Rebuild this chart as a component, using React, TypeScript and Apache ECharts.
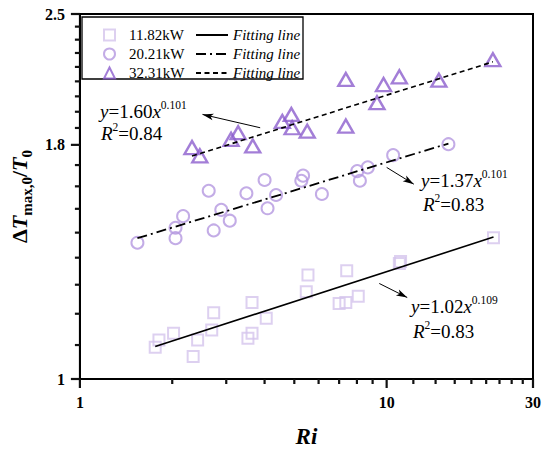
import React, { useEffect, useRef } from "react";
import * as echarts from "echarts";

const FAMILY = "Liberation Serif";

// 11.82 kW (squares)
const ri11 = [1.76, 1.81, 2.02, 2.34, 2.42, 2.69, 2.73, 3.53, 3.64, 3.64, 4.05, 5.47, 5.54, 7.0, 7.36, 7.41, 8.08, 11.0, 11.1, 22.3];
const dt11 = [1.083, 1.103, 1.122, 1.058, 1.103, 1.131, 1.181, 1.108, 1.122, 1.212, 1.165, 1.245, 1.298, 1.209, 1.212, 1.312, 1.231, 1.336, 1.343, 1.426];
// 20.21 kW (circles)
const ri20 = [1.54, 2.05, 2.05, 2.17, 2.63, 2.73, 2.89, 3.08, 3.49, 4.0, 4.09, 4.36, 5.27, 5.34, 6.15, 8.02, 8.18, 8.68, 10.5, 15.9];
const dt20 = [1.408, 1.424, 1.462, 1.505, 1.604, 1.452, 1.529, 1.488, 1.594, 1.648, 1.535, 1.587, 1.645, 1.666, 1.591, 1.685, 1.645, 1.701, 1.754, 1.803];
// 32.31 kW (triangles)
const ri32 = [2.32, 2.46, 3.11, 3.28, 3.66, 4.57, 4.89, 4.92, 5.51, 7.36, 7.36, 9.3, 9.77, 11.0, 14.8, 22.2];
const dt32 = [1.788, 1.751, 1.825, 1.856, 1.795, 1.909, 1.943, 1.879, 1.863, 2.121, 1.887, 2.001, 2.094, 2.135, 2.117, 2.229];

// fitting lines (end points)
const fitX11 = [1.76, 22.3];
const fitY11 = [1.085, 1.428];
const fitX20 = [1.54, 15.9];
const fitY20 = [1.424, 1.806];
const fitX32 = [2.32, 22.2];
const fitY32 = [1.75, 2.217];

// annotation arrows: [fromX, fromY, toX, toY]
const arrow32 = [3.87, 1.879, 2.51, 1.943];
const arrow20 = [10.0, 1.701, 12.26, 1.631];
const arrow11 = [9.46, 1.271, 11.67, 1.227];

// axis ranges and ticks
const X_MIN = 1;
const X_MAX = 30;
const Y_MIN = 1;
const Y_MAX = 2.5;
const xMajor = [1, 10, 30];
const xMinor = [2, 3, 4, 5, 6, 7, 8, 9, 12.22, 14.44, 16.67, 18.89, 21.11, 23.33, 25.56, 27.78];
const yMajor = [1, 1.8, 2.5];
const yMinor = [1.089, 1.178, 1.267, 1.356, 1.444, 1.533, 1.622, 1.711, 1.878, 1.956, 2.033, 2.111, 2.189, 2.267, 2.344, 2.422];

const legendNames = ["11.82kW", "20.21kW", "32.31kW"];
const fitNames = ["fit11", "fit20", "fit32"];

const pairs = (xs: number[], ys: number[]) => xs.map((x, i) => [x, ys[i]]);
const fromLog = (v: number) => String(Number(Math.pow(10, v).toFixed(2)));

const arrowLine = (a: number[]) => ({
  silent: true,
  symbol: ["none", "arrow"],
  symbolSize: [0, 10],
  label: { show: false },
  emphasis: { disabled: true },
  lineStyle: { color: "#000", width: 1, type: "solid" },
  data: [[{ coord: [a[0], a[1]] }, { coord: [a[2], a[3]], symbol: "arrow", symbolSize: [5, 11] }]],
});

// tick marks drawn through the log axes' own scales
const tickSeries = (values: number[], dir: "x" | "y", len: number) => ({
  type: "custom",
  xAxisIndex: 0,
  yAxisIndex: 0,
  silent: true,
  clip: false,
  z: 10,
  data: values.map((v) => (dir === "x" ? [v, Y_MIN] : [X_MIN, v])),
  renderItem: (_params: any, api: any) => {
    const p = api.coord([api.value(0), api.value(1)]);
    const shape = dir === "x" ? { x1: p[0], y1: p[1], x2: p[0], y2: p[1] + len } : { x1: p[0], y1: p[1], x2: p[0] - len, y2: p[1] };
    return { type: "line", shape, style: { stroke: "#111111", lineWidth: 2.2 } };
  },
});

const tok = (size: number, style: string, weight: string, extra: any = {}) => ({
  fontFamily: FAMILY,
  fontSize: size,
  fontWeight: weight,
  fontStyle: style,
  color: "#000",
  fill: "#000",
  ...extra,
});

const annRich = {
  i: tok(19, "italic", "normal", { lineHeight: 24 }),
  n: tok(19, "normal", "normal", { lineHeight: 24 }),
  p: tok(11.5, "normal", "normal", { verticalAlign: "top", lineHeight: 12 }),
};

const annText = (x: number, y: number, text: string) => ({
  type: "text",
  x,
  y,
  silent: true,
  style: {
    text,
    rich: annRich,
    fontFamily: FAMILY,
    fontSize: 19,
    fill: "#000",
    align: "left",
    verticalAlign: "middle",
  },
});

const axisFont = { fontFamily: FAMILY, fontSize: 16, fontWeight: "bold", color: "#000" };
const noLine = { show: false, onZero: false };

const LX_MAX = Math.log10(X_MAX);
const LY_MAX = Math.log10(Y_MAX);

const legendText = { fontFamily: FAMILY, fontSize: 15, color: "#000", lineHeight: 16 };
const clearItem = { color: "rgba(0,0,0,0)", borderColor: "rgba(0,0,0,0)", borderWidth: 0 };

const option: any = {
  animation: false,
  textStyle: { fontFamily: FAMILY },
  grid: { left: 74, right: 17, top: 14, bottom: 72, show: true, borderColor: "#000", borderWidth: 2, backgroundColor: "transparent" },
  legend: [
    {
      // symbols
      data: legendNames,
      orient: "vertical",
      left: 98,
      top: 22,
      itemWidth: 11,
      itemHeight: 11,
      itemGap: 3,
      selectedMode: false,
      formatter: () => " ",
      itemStyle: { borderWidth: 2 },
      textStyle: legendText,
    },
    {
      // names
      data: legendNames,
      orient: "vertical",
      left: 118,
      top: 22,
      itemWidth: 1,
      itemHeight: 11,
      itemGap: 3,
      selectedMode: false,
      itemStyle: clearItem,
      textStyle: legendText,
    },
    {
      data: fitNames,
      orient: "vertical",
      left: 190,
      top: 22,
      itemWidth: 32,
      itemHeight: 11,
      itemGap: 3,
      selectedMode: false,
      formatter: () => "Fitting line",
      itemStyle: clearItem,
      textStyle: { ...legendText, fontStyle: "italic" },
    },
  ],
  xAxis: [
    {
      type: "log",
      logBase: 10,
      min: X_MIN,
      max: X_MAX,
      position: "bottom",
      axisLine: { show: true, onZero: false, lineStyle: { color: "#000", width: 2 } },
      axisTick: { show: false },
      axisLabel: { show: false },
      splitLine: { show: false },
      minorTick: { show: false },
    },
    {
      type: "value",
      min: 0,
      max: LX_MAX,
      position: "bottom",
      axisLine: noLine,
      axisTick: { show: false },
      axisLabel: { show: true, customValues: xMajor.map(Math.log10), formatter: fromLog, margin: 15, ...axisFont },
      splitLine: { show: false },
      name: "Ri",
      nameLocation: "middle",
      nameGap: 46,
      nameTextStyle: { fontFamily: FAMILY, fontSize: 23, fontWeight: "bold", fontStyle: "italic", color: "#000" },
    },
  ],
  yAxis: [
    {
      type: "log",
      logBase: 10,
      min: Y_MIN,
      max: Y_MAX,
      position: "left",
      axisLine: { show: true, onZero: false, lineStyle: { color: "#000", width: 2 } },
      axisTick: { show: false },
      axisLabel: { show: false },
      splitLine: { show: false },
      minorTick: { show: false },
    },
    {
      type: "value",
      min: 0,
      max: LY_MAX,
      position: "left",
      axisLine: noLine,
      axisTick: { show: false },
      axisLabel: { show: true, customValues: yMajor.map(Math.log10), formatter: fromLog, margin: 15, ...axisFont },
      splitLine: { show: false },
      name: "{d|Δ}{t|T}{s|max,0}{d|/}{t|T}{s|0}",
      nameLocation: "middle",
      nameRotate: 90,
      nameGap: 38,
      nameTextStyle: {
        fontFamily: FAMILY,
        fontSize: 22,
        fontWeight: "bold",
        color: "#000",
        rich: {
          d: tok(22, "normal", "bold", { lineHeight: 30 }),
          t: tok(22, "italic", "bold", { lineHeight: 30 }),
          s: tok(15, "normal", "bold", { verticalAlign: "bottom", lineHeight: 18 }),
        },
      },
    },
  ],
  series: [
    {
      name: "11.82kW",
      type: "scatter",
      xAxisIndex: 0,
      yAxisIndex: 0,
      data: pairs(ri11, dt11),
      symbol: "rect",
      symbolSize: 11,
      itemStyle: { color: "rgba(255,255,255,0)", borderColor: "#d4c4ec", borderWidth: 2 },
      emphasis: { disabled: true },
    },
    {
      name: "20.21kW",
      type: "scatter",
      xAxisIndex: 0,
      yAxisIndex: 0,
      data: pairs(ri20, dt20),
      symbol: "circle",
      symbolSize: 12,
      itemStyle: { color: "rgba(255,255,255,0)", borderColor: "#b497e0", borderWidth: 2 },
      emphasis: { disabled: true },
    },
    {
      name: "32.31kW",
      type: "scatter",
      xAxisIndex: 0,
      yAxisIndex: 0,
      data: pairs(ri32, dt32),
      symbol: "triangle",
      symbolSize: [15, 13],
      itemStyle: { color: "rgba(255,255,255,0)", borderColor: "#8c5ecd", borderWidth: 2.4 },
      emphasis: { disabled: true },
    },
    {
      name: "fit11",
      type: "line",
      xAxisIndex: 0,
      yAxisIndex: 0,
      data: pairs(fitX11, fitY11),
      symbol: "none",
      itemStyle: { color: "#000" },
      lineStyle: { color: "#000", width: 1.6, type: "solid" },
      markLine: arrowLine(arrow11),
    },
    {
      name: "fit20",
      type: "line",
      xAxisIndex: 0,
      yAxisIndex: 0,
      data: pairs(fitX20, fitY20),
      symbol: "none",
      itemStyle: { color: "#000" },
      lineStyle: { color: "#000", width: 1.8, type: [10, 4, 2, 4] },
      markLine: arrowLine(arrow20),
    },
    {
      name: "fit32",
      type: "line",
      xAxisIndex: 0,
      yAxisIndex: 0,
      data: pairs(fitX32, fitY32),
      symbol: "none",
      itemStyle: { color: "#000" },
      lineStyle: { color: "#000", width: 1.6, type: [5, 3.5] },
      markLine: arrowLine(arrow32),
    },
    tickSeries(xMajor, "x", 9),
    tickSeries(xMinor, "x", 5),
    tickSeries(yMajor, "y", 9),
    tickSeries(yMinor, "y", 5),
  ],
  graphic: [
    {
      type: "rect",
      silent: true,
      shape: { x: 82, y: 17, width: 221, height: 62 },
      style: { fill: "none", stroke: "#000", lineWidth: 1.3 },
    },
    annText(100, 111, "{i|y}{n|=1.60}{i|x}{p|0.101}"),
    annText(101, 133, "{i|R}{p|2}{n|=0.84}"),
    annText(421, 180, "{i|y}{n|=1.37}{i|x}{p|0.101}"),
    annText(423, 204, "{i|R}{p|2}{n|=0.83}"),
    annText(411, 306, "{i|y}{n|=1.02}{i|x}{p|0.109}"),
    annText(413, 331, "{i|R}{p|2}{n|=0.83}"),
  ],
};

export default function App() {
  const ref = useRef<HTMLDivElement>(null);
  useEffect(() => {
    document.body.style.margin = "0";
    const chart = echarts.init(ref.current as HTMLDivElement, null, { renderer: "svg" });
    chart.setOption(option);
    return () => chart.dispose();
  }, []);
  return <div ref={ref} style={{ width: 550, height: 453 }} />;
}
